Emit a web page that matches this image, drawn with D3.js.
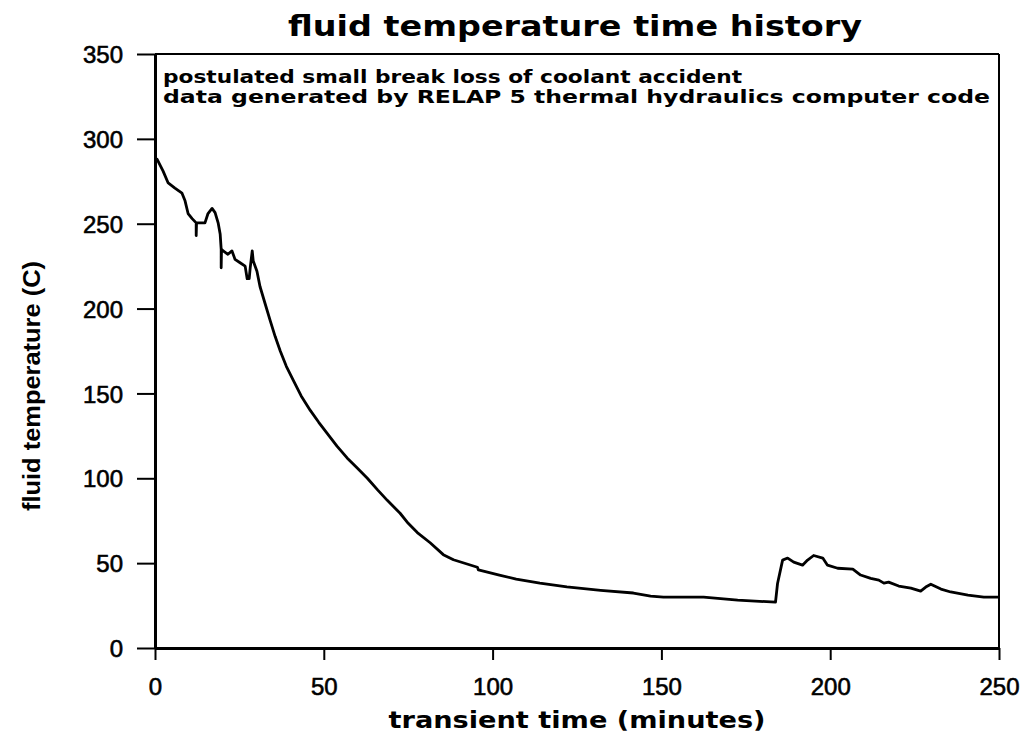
<!DOCTYPE html>
<html>
<head>
<meta charset="utf-8">
<script src="https://cdn.jsdelivr.net/npm/d3@7"></script>
<style>
  body { margin: 0; background: #fff; }
  svg text { fill: #000; }
</style>
</head>
<body>
<svg id="chart" width="1033" height="740"></svg>
<script>
// time (minutes) and fluid temperature (C)
var timeMin = [0, 0.6, 2.4, 3.9, 5.9, 8, 8.9, 9.8, 11, 12.2, 12.2, 12.3, 13.3, 14.8, 15.7, 16.9, 17.8, 18.7, 19.3, 19.6, 19.6, 19.7,
  20.2, 21.6, 22.8, 23.7, 25.2, 26.7, 27.3, 27.9, 28.2, 28.8, 29.1, 30.2, 31.1, 32.6, 34.1, 35.6, 37.1, 38.9, 40.9, 43.3, 46, 48.5, 51,
  53.9, 56.9, 59.9, 62.9, 66, 68.8, 72.6, 75, 77.7, 81.5, 85.4, 88.4, 95.5, 95.8, 102, 107, 114, 122, 132, 141.7, 146.8, 150.6,
  162.5, 172.6, 183.8, 184.4, 185.9, 187.4, 189.2, 191.8, 193.3, 195.1, 197.8, 199.2, 202.2, 206.7, 209, 212, 214.4, 215.9,
  217.3, 220.3, 223.9, 226.8, 228.3, 229.8, 232.8, 235.7, 240.8, 245.5, 250];
var tempC = [288, 288, 281, 274, 271, 268, 263.5, 256, 253, 250.5, 243, 250.5, 250.5, 250.5, 256, 259, 256.5, 250.5, 244, 235, 224, 235,
  234, 232, 234, 229, 227, 225, 217.6, 217.6, 224, 234, 228, 222, 213, 203, 193, 183.5, 175, 166, 158, 148.5, 140, 133, 126.5,
  119, 112, 106, 100, 93, 87, 79.4, 73.5, 68, 62, 55, 52, 47.6, 46, 43, 40.6, 38.2, 36, 34, 32.4, 30.6, 30,
  30, 28.2, 27, 38, 51.8, 53, 50.6, 48.8, 51.8, 54.5, 53, 48.8, 47, 46.5, 43, 41, 40, 38.2,
  38.8, 36.5, 35.3, 33.5, 35.9, 37.6, 34.7, 33, 31.2, 30, 30];
var xTicks = [0, 50, 100, 150, 200, 250];
var yTicks = [0, 50, 100, 150, 200, 250, 300, 350];
var titleText = "fluid temperature time history";
var noteLines = ["postulated small break loss of coolant accident",
                 "data generated by RELAP 5 thermal hydraulics computer code"];
var xLabel = "transient time (minutes)";
var yLabel = "fluid temperature (C)";

var svg = d3.select("#chart"),
    plotLeft = 155, plotRight = 999, plotTop = 54, plotBottom = 648;

var x = d3.scaleLinear().domain([0, 250]).range([plotLeft, plotRight]);
var y = d3.scaleLinear().domain([0, 350]).range([plotBottom, plotTop]);

// frame: top and right edges thinner than the axes
svg.append("line").attr("x1", plotLeft).attr("x2", plotRight).attr("y1", plotTop).attr("y2", plotTop)
    .attr("stroke", "#000").attr("stroke-width", 2);
svg.append("line").attr("x1", plotRight).attr("x2", plotRight).attr("y1", plotTop).attr("y2", plotBottom)
    .attr("stroke", "#000").attr("stroke-width", 2);

// y axis, ticks pointing outward
var yAxis = svg.append("g").attr("transform", "translate(" + plotLeft + ",0)")
    .call(d3.axisLeft(y).tickValues(yTicks).tickSize(18).tickPadding(14).tickSizeOuter(0));
yAxis.select(".domain").attr("stroke-width", 3);
yAxis.selectAll(".tick line").attr("stroke-width", 2);
yAxis.selectAll(".tick text")
    .style("font-family", "'Liberation Sans', Arial, sans-serif")
    .style("font-size", "24px").attr("stroke", "#000").attr("stroke-width", 0.6)
    .attr("dy", "0.36em");

// x axis, ticks pointing down
var xAxis = svg.append("g").attr("transform", "translate(0," + plotBottom + ")")
    .call(d3.axisBottom(x).tickValues(xTicks).tickSize(12).tickPadding(18).tickSizeOuter(0));
xAxis.select(".domain").attr("stroke-width", 3);
xAxis.selectAll(".tick line").attr("stroke-width", 2);
xAxis.selectAll(".tick text")
    .style("font-family", "'Liberation Sans', Arial, sans-serif")
    .style("font-size", "24px").attr("stroke", "#000").attr("stroke-width", 0.6);

// the temperature trace
var pts = timeMin.map(function (t, i) { return [t, tempC[i]]; });
svg.append("path").datum(pts)
    .attr("fill", "none").attr("stroke", "#000").attr("stroke-width", 2.8)
    .attr("stroke-linejoin", "round")
    .attr("d", d3.line().x(function (d) { return x(d[0]); }).y(function (d) { return y(d[1]); }));

// title
svg.append("text").attr("x", 575).attr("y", 36).attr("text-anchor", "middle")
    .attr("textLength", 574).attr("lengthAdjust", "spacingAndGlyphs")
    .style("font-family", "'DejaVu Sans', sans-serif").style("font-weight", "bold").style("font-size", "29px")
    .text(titleText);

// note in the top-left of the plot
svg.selectAll(".note").data(noteLines).enter().append("text")
    .attr("class", "note")
    .attr("x", 163).attr("y", function (d, i) { return 83 + i * 20; })
    .attr("textLength", function (d, i) { return i ? 827 : 579; })
    .attr("lengthAdjust", "spacingAndGlyphs")
    .style("font-family", "'DejaVu Sans', sans-serif").style("font-weight", "bold").style("font-size", "17px")
    .text(function (d) { return d; });

// axis titles
svg.append("text").attr("x", 577).attr("y", 728).attr("text-anchor", "middle")
    .attr("textLength", 377).attr("lengthAdjust", "spacingAndGlyphs")
    .style("font-family", "'DejaVu Sans', sans-serif").style("font-weight", "bold").style("font-size", "23px")
    .text(xLabel);

svg.append("text").attr("transform", "translate(40,386) rotate(-90)").attr("text-anchor", "middle")
    .attr("textLength", 250).attr("lengthAdjust", "spacingAndGlyphs")
    .style("font-family", "'Liberation Sans Narrow', 'Liberation Sans', sans-serif")
    .style("font-weight", "bold").style("font-size", "24px")
    .text(yLabel);
</script>
</body>
</html>
